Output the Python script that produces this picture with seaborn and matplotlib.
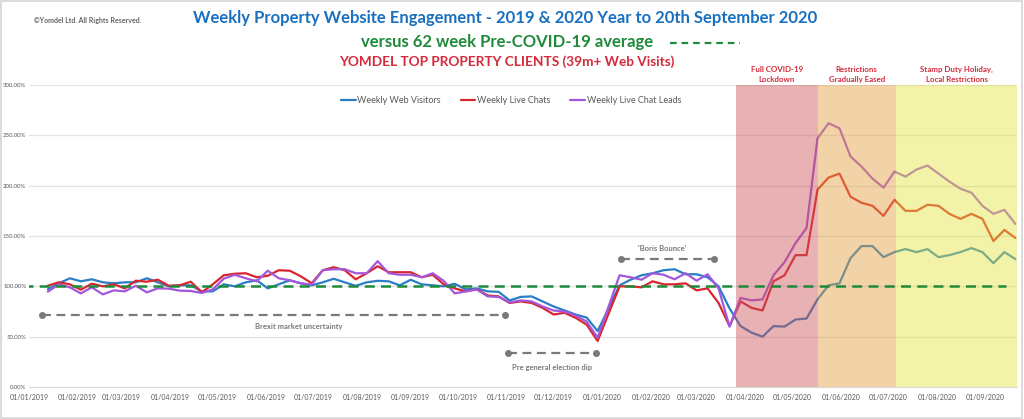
import pandas as pd
import numpy as np
import matplotlib.pyplot as plt
import matplotlib.dates as mdates
import matplotlib.lines as mlines
from matplotlib.ticker import FuncFormatter
import seaborn as sns

sns.set_style("white")
plt.rcParams['font.family'] = ['Lato', 'DejaVu Sans']

# Weekly data (Sundays), 13 Jan 2019 -> 20 Sep 2020, % of pre-COVID-19 average
weeks = pd.date_range("2019-01-13", "2020-09-20", freq="7D")

web_visitors = [97, 103, 108, 105, 107, 104, 103, 104, 104, 108,
                104, 100, 101, 101, 95, 95, 102, 100, 104, 106,
                98, 102, 106, 103, 101, 104, 107.5, 104, 100.5, 104,
                105.5, 105, 101, 106.5, 102, 101, 100, 102.5, 97, 98,
                95, 94.5, 86, 89.5, 90, 85, 80, 76, 72, 69,
                55.6, 78, 101, 106.6, 111, 113, 116, 117, 112, 112,
                109, 100, 78, 60.5, 54, 50, 60.5, 60, 67, 68,
                87, 101, 103, 128, 140, 140, 129, 134, 137, 134,
                137, 129, 131, 134, 138, 134, 123, 134, 127]

live_chats = [100.6, 104, 102, 96.7, 102.6, 100, 102, 98, 105.6, 104.6,
              106.6, 100.6, 101, 104.6, 94, 102, 111, 112.5, 113, 109,
              110.5, 116, 115.5, 110, 103, 116, 119, 116, 107, 113,
              120, 114, 114, 114, 109, 111.5, 102, 98, 95, 97,
              91, 90, 83.5, 85, 83.5, 78.6, 72, 73.7, 68.7, 62,
              45.7, 73, 100, 100, 99, 105, 102, 102, 103, 96,
              98, 83.5, 60.5, 85, 78.6, 76, 105, 111, 131, 131,
              196, 208, 212, 189, 183, 180, 170, 186, 175, 175,
              181, 180, 172, 167, 172, 167, 145, 156, 148]

chat_leads = [94.7, 102, 99, 93, 99, 92, 96, 95, 100.6, 94,
              98, 97.7, 95.7, 95.4, 93.4, 97, 107.6, 111.5, 108, 105,
              115.5, 108, 106, 103, 101.6, 116, 117, 117, 113, 113,
              125, 113, 111.5, 111.5, 109, 113, 105.5, 93, 95, 97,
              90, 89.5, 84, 86, 85, 80, 76, 75, 71, 65,
              49, 80, 111, 109, 106.6, 113, 111.5, 107, 113, 105.6,
              112, 98, 60, 88.5, 86, 87, 111, 124, 143, 158,
              247, 262, 257, 229, 219, 207, 198, 214, 209, 216,
              220, 212, 204, 197, 193, 180, 172, 176, 162]

series_names = ["Weekly Web Visitors", "Weekly Live Chats", "Weekly Live Chat Leads"]
series_colors = ["#2a7fc4", "#d8262e", "#a457dc"]

# pre-COVID-19 average line
baseline_dates = ["2018-12-28", "2020-09-14"]
baseline_value = 100

# shaded periods
phase_labels = ["Full COVID-19\nLockdown", "Restrictions\nGradually Eased",
                "Stamp Duty Holiday,\nLocal Restrictions"]
phase_start = ["2020-03-26", "2020-05-17", "2020-07-06"]
phase_end = ["2020-05-17", "2020-07-06", "2020-09-21"]
phase_colors = ["#ce5258", "#e49f3e", "#e4e43e"]

# grey annotations
note_labels = ["Brexit market uncertainty", "Pre general election dip", "'Boris Bounce'"]
note_start = ["2019-01-09", "2019-11-02", "2020-01-13"]
note_end = ["2019-10-31", "2019-12-28", "2020-03-12"]
note_level = [72, 34, 127]
note_text_date = ["2019-06-22", "2019-11-30", "2020-02-08"]
note_text_level = [60, 19.5, 138]

df = pd.DataFrame({"week": weeks,
                   series_names[0]: web_visitors,
                   series_names[1]: live_chats,
                   series_names[2]: chat_leads})
long = df.melt(id_vars="week", var_name="series", value_name="value")

fig = plt.figure(figsize=(10.24, 4.19), dpi=100)
ax = fig.add_axes([29 / 1024, 1 - 387 / 419, 988 / 1024, 302 / 419])

sns.lineplot(data=long, x="week", y="value", hue="series", hue_order=series_names,
             palette=series_colors, lw=1.6, ax=ax, zorder=2)

# shading drawn over the lines, as in the original
for s, e, c in zip(phase_start, phase_end, phase_colors):
    ax.axvspan(pd.Timestamp(s), pd.Timestamp(e), color=c, alpha=0.45, lw=0, zorder=3)
for s, e, lab in zip(phase_start, phase_end, phase_labels):
    mid = pd.Timestamp(s) + (pd.Timestamp(e) - pd.Timestamp(s)) / 2
    ax.text(mid, 1.035, lab, transform=ax.get_xaxis_transform(), ha="center", va="center",
            fontsize=5.7, color="#d42a3a", fontweight="bold", linespacing=1.5)

ax.plot(pd.to_datetime(baseline_dates), [baseline_value] * 2, ls=(0, (4, 2.5)),
        color="#1e8a3a", lw=1.8, zorder=4)

for lab, s, e, lv, td, tl in zip(note_labels, note_start, note_end, note_level,
                                 note_text_date, note_text_level):
    ax.plot(pd.to_datetime([s, e]), [lv, lv], ls=(0, (4, 2.5)), color="#7a7a7a", lw=1.6,
            marker="o", ms=4, zorder=4)
    ax.text(pd.Timestamp(td), tl, lab, ha="center", va="center", fontsize=5.5,
            color="#7a7a7a", fontweight="bold", zorder=5)

ax.set_xlim(pd.Timestamp("2019-01-01"), pd.Timestamp("2020-09-21"))
ax.set_ylim(0, 300)
ax.set_yticks(np.arange(0, 301, 50))
ax.yaxis.set_major_formatter(FuncFormatter(lambda v, p: f"{v:.2f}%"))
ax.xaxis.set_major_locator(mdates.MonthLocator())
ax.xaxis.set_major_formatter(mdates.DateFormatter("%d/%m/%Y"))
ax.grid(axis="y", color="#e3e3e3", lw=0.9, zorder=0)
ax.set_axisbelow(True)
ax.set_xlabel("")
ax.set_ylabel("")
for sp in ["top", "right", "left"]:
    ax.spines[sp].set_visible(False)
ax.spines["bottom"].set_color("#d9d9d9")
ax.tick_params(axis="y", length=0, labelsize=4.3, labelcolor="#595959", pad=2)
ax.tick_params(axis="x", length=3, color="#d0d0d0", labelsize=5, labelcolor="#595959", pad=2)

leg = ax.legend(loc="upper center", bbox_to_anchor=(0.488, 0.99), ncol=3, frameon=False,
                fontsize=6.5, handlelength=1.6, handletextpad=0.2, columnspacing=2.2)
for t in leg.get_texts():
    t.set_color("#595959")

# titles
fig.text(505 / 1024, 1 - 18 / 419,
         "Weekly Property Website Engagement - 2019 & 2020 Year to 20th September 2020",
         ha="center", va="center", fontsize=12, fontweight="bold", color="#1a70bf")
fig.text(507 / 1024, 1 - 42 / 419, "versus 62 week Pre-COVID-19 average",
         ha="center", va="center", fontsize=12, fontweight="bold", color="#1e8a3a")
fig.add_artist(mlines.Line2D([670 / 1024, 740 / 1024], [1 - 43 / 419] * 2,
                             ls=(0, (3, 2.2)), color="#1e8a3a", lw=1.6))
fig.text(507 / 1024, 1 - 62 / 419, "YOMDEL TOP PROPERTY CLIENTS (39m+ Web Visits)",
         ha="center", va="center", fontsize=9.8, fontweight="bold", color="#d42a3a")
fig.text(34 / 1024, 1 - 20 / 419, "\u00a9Yomdel Ltd. All Rights Reserved.",
         ha="left", va="center", fontsize=5, fontweight="bold", color="#666666")

fig.add_artist(plt.Rectangle((0.001, 0.002), 0.997, 0.995, transform=fig.transFigure,
                             fill=False, ec="#d4d4d4", lw=1.2))

plt.savefig("out.png", dpi=100)
